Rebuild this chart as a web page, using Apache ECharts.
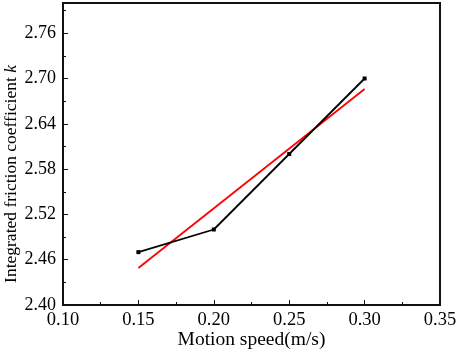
<!DOCTYPE html>
<html><head><meta charset="utf-8">
<script src="https://cdn.jsdelivr.net/npm/echarts@6/dist/echarts.min.js"></script>
<style>html,body{margin:0;padding:0;background:#fff}#c{width:457px;height:354px}</style>
</head><body><div id="c"></div>
<script>
const speeds = [0.15, 0.20, 0.25, 0.30];
const kValues = [2.47, 2.50, 2.60, 2.70];
const fitX = [0.15, 0.30];
const fitY = [2.449, 2.686];
const xTicks = [0.10, 0.15, 0.20, 0.25, 0.30, 0.35];
const yTicks = [2.40, 2.46, 2.52, 2.58, 2.64, 2.70, 2.76];

const chart = echarts.init(document.getElementById('c'), null, {renderer: 'canvas'});
const font = 'Liberation Serif';
chart.setOption({
  animation: false,
  grid: {left: 63, top: 3, right: 17, bottom: 49, containLabel: false, outerBoundsMode: 'none',
    show: true, borderColor: '#111', borderWidth: 2, backgroundColor: 'transparent'},
  xAxis: {
    type: 'value', min: 0.10, max: 0.35, interval: 0.05,
    name: 'Motion speed(m/s)', nameLocation: 'middle', nameGap: 25, nameMoveOverlap: false,
    nameTextStyle: {fontFamily: font, fontSize: 19.5, color: '#000'},
    axisLine: {show: true, onZero: false, lineStyle: {color: '#111', width: 2}},
    axisTick: {show: true, inside: true, length: 5, lineStyle: {color: '#111', width: 1}},
    minorTick: {show: true, splitNumber: 2, length: 3, lineStyle: {color: '#111', width: 1}},
    splitLine: {show: false},
    axisLabel: {fontFamily: font, fontSize: 18.5, color: '#000', margin: 6,
      formatter: v => v.toFixed(2)}
  },
  yAxis: {
    type: 'value', min: 2.40, max: 2.80, interval: 0.06,
    name: '{n|Integrated friction coefficient }{k|k}', nameLocation: 'middle', nameGap: 43,
    nameRotate: 90, nameMoveOverlap: false,
    nameTextStyle: {fontFamily: font, fontSize: 17.5, color: '#000', padding: [0, 0, 0, -40],
      rich: {n: {fontFamily: font, fontSize: 17.5, color: '#000'}, k: {fontFamily: font, fontSize: 17.5, fontStyle: 'italic', color: '#000'}}},
    axisLine: {show: true, onZero: false, lineStyle: {color: '#111', width: 2}},
    axisTick: {show: true, inside: true, length: 5, lineStyle: {color: '#111', width: 1}},
    minorTick: {show: true, splitNumber: 2, length: 3, lineStyle: {color: '#111', width: 1}},
    splitLine: {show: false},
    axisLabel: {fontFamily: font, fontSize: 18, color: '#000', margin: 7, showMaxLabel: false,
      formatter: v => v.toFixed(2)}
  },
  series: [
    {type: 'line', data: speeds.map((x, i) => [x, kValues[i]]), symbol: 'rect', symbolSize: 4,
      lineStyle: {color: '#000', width: 1.8}, itemStyle: {color: '#000'}, z: 3},
    {type: 'line', data: fitX.map((x, i) => [x, fitY[i]]), symbol: 'none',
      lineStyle: {color: '#ff0000', width: 1.8}, z: 2}
  ]
});
</script></body></html>
